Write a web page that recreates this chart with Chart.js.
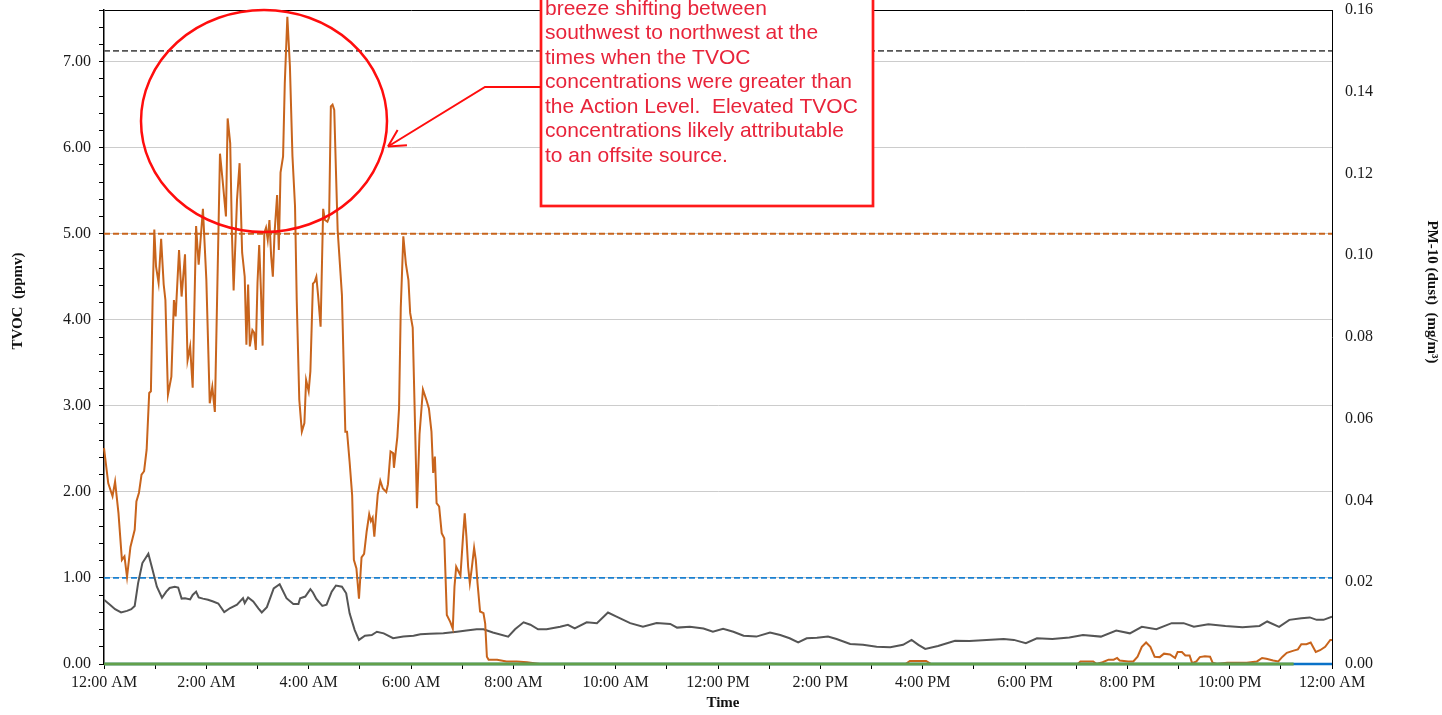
<!DOCTYPE html>
<html>
<head>
<meta charset="utf-8">
<script src="https://cdn.jsdelivr.net/npm/chart.js@4.4.1/dist/chart.umd.min.js"></script>
<style>
  html, body { margin:0; padding:0; background:#fff; }
  #wrap { width:1442px; height:715px; }
</style>
</head>
<body>
<div id="wrap"><canvas id="c" width="1442" height="715"></canvas></div>
<script>
// ---- Data (time in minutes after midnight) ----
const tvocTime = [0,5,10,13,17,21,24,27,31,36,38,41,44,47,50,53,55,57,59,61,64,67,70,72,75,79,82,84,88,91,95,98,101,104,108,111,116,120,124,127,130,133,136,139,143,145,148,150,152,156,159,162,165,167,169,171,174,176,178,180,182,184,186,188,190,192,194,196,198,200,203,205,207,210,212,215,218,221,224,226,229,232,235,237,240,242,245,247,249,251,254,257,259,262,264,266,268,270,272,274,276,279,283,285,288,291,293,296,299,302,305,308,311,313,315,317,321,324,327,331,333,336,339,340,344,346,348,351,354,357,359,362,365,367,370,374,378,381,384,386,388,390,393,396,399,402,406,409,411,413,415,418,421,423,425,427,429,431,434,436,438,441,445,447,449,451,461,472,484,496,511,940,945,950,958,964,970,1142,1145,1160,1164,1171,1178,1184,1188,1191,1201,1207,1212,1217,1222,1227,1232,1238,1243,1250,1256,1259,1264,1268,1273,1276,1281,1285,1291,1297,1300,1305,1317,1340,1352,1358,1363,1371,1377,1382,1387,1395,1400,1404,1410,1415,1421,1426,1432,1438,1440];
const tvocValue = [2.51,2.10,1.95,2.12,1.75,1.21,1.25,1.01,1.36,1.56,1.89,1.99,2.20,2.24,2.49,3.15,3.17,4.23,5.05,4.62,4.43,4.94,4.41,4.23,3.13,3.34,4.23,4.04,4.81,4.27,4.76,3.53,3.69,3.21,5.09,4.64,5.29,4.47,3.03,3.22,2.93,4.43,5.93,5.63,5.20,6.34,6.05,5.01,4.34,5.40,5.82,4.78,4.50,3.71,4.41,3.69,3.88,3.85,3.65,4.43,4.87,4.35,3.70,5.01,5.07,4.93,5.16,4.74,4.50,5.01,5.45,4.81,5.71,5.90,6.75,7.52,6.95,5.90,5.32,4.23,3.07,2.70,2.80,3.30,3.17,3.40,4.42,4.44,4.50,4.29,3.92,5.29,5.16,5.14,5.19,6.48,6.50,6.44,5.73,5.04,4.74,4.29,2.70,2.70,2.35,1.96,1.21,1.11,0.76,1.24,1.28,1.54,1.74,1.66,1.70,1.48,1.97,2.13,2.04,2.00,2.09,2.47,2.45,2.28,2.64,2.97,4.14,4.97,4.65,4.46,4.08,3.91,2.67,1.81,2.67,3.19,3.07,2.97,2.70,2.22,2.41,1.87,1.83,1.52,1.46,0.57,0.49,0.41,0.90,1.13,1.09,1.03,1.48,1.75,1.48,1.13,0.94,1.09,1.35,1.21,0.94,0.61,0.59,0.47,0.085,0.05,0.05,0.03,0.03,0.02,0.0,0.0,0.035,0.035,0.035,0.035,0.0,0.0,0.03,0.03,0.0,0.02,0.05,0.05,0.07,0.04,0.03,0.03,0.085,0.20,0.25,0.20,0.085,0.08,0.12,0.11,0.07,0.14,0.14,0.10,0.10,0.01,0.03,0.08,0.09,0.085,0.015,0.0,0.015,0.015,0.03,0.07,0.06,0.04,0.03,0.085,0.13,0.155,0.17,0.23,0.23,0.25,0.14,0.16,0.20,0.28,0.28];

const pmTime = [0,7,13,20,27,32,36,40,45,52,57,62,68,73,77,83,87,91,95,101,104,108,111,116,122,128,134,141,148,156,163,165,169,175,181,185,191,199,206,214,222,228,230,236,242,245,249,256,261,267,272,279,284,288,294,299,306,314,320,328,339,351,363,371,382,398,414,425,437,445,456,474,482,492,500,509,519,535,544,552,566,578,591,601,617,632,648,664,672,687,703,714,726,738,750,765,781,793,804,814,824,836,849,859,875,890,906,922,937,947,955,963,978,998,1015,1035,1055,1067,1081,1094,1112,1132,1148,1169,1187,1203,1217,1234,1252,1266,1278,1295,1315,1335,1355,1364,1378,1390,1404,1414,1422,1430,1440];
const pmValue = [0.0157,0.0145,0.0134,0.0126,0.0130,0.0134,0.0142,0.0198,0.0247,0.0270,0.0230,0.0189,0.0162,0.0177,0.0186,0.0189,0.0187,0.0160,0.0161,0.0158,0.0169,0.0177,0.0163,0.0160,0.0157,0.0153,0.0148,0.0127,0.0137,0.0145,0.0161,0.0149,0.0163,0.0153,0.0136,0.0126,0.0139,0.0185,0.0195,0.0161,0.0147,0.0147,0.0161,0.0165,0.0183,0.0175,0.0159,0.0142,0.0145,0.0177,0.0192,0.0189,0.0173,0.0124,0.0083,0.0059,0.0069,0.0071,0.0079,0.0075,0.0063,0.0067,0.0069,0.0073,0.0074,0.0075,0.0079,0.0082,0.0085,0.0085,0.0077,0.0067,0.0085,0.0102,0.0096,0.0085,0.0085,0.0091,0.0096,0.0087,0.0102,0.0100,0.0126,0.0116,0.0100,0.0091,0.0100,0.0098,0.0089,0.0091,0.0087,0.0079,0.0086,0.0079,0.0069,0.0067,0.0077,0.0071,0.0063,0.0053,0.0063,0.0064,0.0067,0.0061,0.0049,0.0047,0.0042,0.0041,0.0047,0.0059,0.0047,0.0037,0.0044,0.0057,0.0056,0.0059,0.0061,0.0059,0.0051,0.0063,0.0061,0.0065,0.0071,0.0067,0.0082,0.0075,0.0091,0.0085,0.0100,0.0100,0.0091,0.0097,0.0093,0.0090,0.0093,0.0104,0.0091,0.0108,0.0112,0.0114,0.0108,0.0108,0.0116];

// zero-valued monitoring series (drawn along the baseline)
const greenTime = [0, 1395];
const greenValue = [0, 0];
const blueTime = [0, 1440];
const blueValue = [0, 0];

// reference levels
const tvocActionLevel = 5.0;   // ppmv
const tvocLowerLevel = 1.0;    // ppmv
const pmActionLevel = 0.15;    // mg/m3

const xTickStep = 60;      // minutes
const xLabelStep = 120;    // minutes
const yLeftMax = 7.6, yRightMax = 0.16;

const noteLines = [
  "breeze shifting between",
  "southwest to northwest at the",
  "times when the TVOC",
  "concentrations were greater than",
  "the Action Level.  Elevated TVOC",
  "concentrations likely attributable",
  "to an offsite source."
];

// ---- helpers ----
const pts = (xs, ys) => xs.map((x, i) => ({x, y: ys[i]}));
const span = (v) => [{x: 0, y: v}, {x: 1440, y: v}];
function fmtTime(m) {
  let h = Math.round(m / 60) % 24;
  const ap = h < 12 ? 'AM' : 'PM';
  let hh = h % 12; if (hh === 0) hh = 12;
  return hh + ':00 ' + ap;
}
const isInt = v => Math.abs(v - Math.round(v)) < 1e-6;
const noPad = s => { s.paddingTop = 0; s.paddingBottom = 0; s.paddingLeft = 0; s.paddingRight = 0; };

const SERIF = "'Liberation Serif', 'Times New Roman', serif";
const SANS = "'Liberation Sans', Arial, sans-serif";
Chart.defaults.font.family = SERIF;
Chart.defaults.color = '#1a1a1a';

const overlay = {
  id: 'overlay',
  afterDraw(chart) {
    const c = chart.ctx, a = chart.chartArea;
    c.save();
    // axis titles
    c.fillStyle = '#111';
    c.font = "bold 15px " + SERIF;
    c.textAlign = 'center'; c.textBaseline = 'middle';
    c.save(); c.translate(18, 301); c.rotate(-Math.PI / 2);
    c.fillText('TVOC  (ppmv)', 0, 0); c.restore();
    c.save(); c.translate(1432, 292); c.rotate(Math.PI / 2);
    c.fillText('PM-10 (dust)  (mg/m\u00B3)', 0, 0); c.restore();
    c.fillText('Time', (a.left + a.right) / 2 + 5, 703);

    // ellipse
    c.strokeStyle = '#ff0d0d'; c.lineWidth = 2.5;
    c.beginPath(); c.ellipse(264, 121, 123, 111, 0, 0, Math.PI * 2); c.stroke();

    // note box
    c.fillStyle = '#fff';
    c.fillRect(541, -60, 332, 266);
    c.strokeStyle = '#ff1a1a'; c.lineWidth = 2.7;
    c.strokeRect(541, -60, 332, 266);

    // arrow
    c.strokeStyle = '#ff0d0d'; c.lineWidth = 2;
    const tip = [388, 146.5], bend = [485, 87];
    c.beginPath(); c.moveTo(541, 87); c.lineTo(bend[0], bend[1]); c.lineTo(tip[0], tip[1]); c.stroke();
    const ang = Math.atan2(bend[1] - tip[1], bend[0] - tip[0]);
    c.beginPath();
    for (const s of [-1, 1]) {
      const t = ang + s * 0.49;
      c.moveTo(tip[0], tip[1]);
      c.lineTo(tip[0] + 19 * Math.cos(t), tip[1] + 19 * Math.sin(t));
    }
    c.stroke();

    // note text
    c.fillStyle = '#e8243a';
    c.font = "21px " + SANS;
    c.textAlign = 'left'; c.textBaseline = 'middle';
    noteLines.forEach((t, i) => c.fillText(t, 545, 9 + i * 24.5));
    c.restore();
  }
};

new Chart(document.getElementById('c'), {
  type: 'line',
  data: {
    datasets: [
      { data: pts(greenTime, greenValue), yAxisID: 'y', borderColor: '#62a04a', borderWidth: 3, clip: false },
      { data: pts(blueTime, blueValue), yAxisID: 'y', borderColor: '#0a72c8', borderWidth: 2.5, clip: false },
      { data: pts(tvocTime, tvocValue), yAxisID: 'y', borderColor: '#c8641c', borderWidth: 2, clip: false },
      { data: pts(pmTime, pmValue), yAxisID: 'y2', borderColor: '#555555', borderWidth: 2 },
      { data: span(tvocActionLevel), yAxisID: 'y', borderColor: '#c8641c', borderWidth: 1.8, borderDash: [6, 3] },
      { data: span(tvocLowerLevel), yAxisID: 'y', borderColor: '#1a80d0', borderWidth: 1.8, borderDash: [6, 3] },
      { data: span(pmActionLevel), yAxisID: 'y2', borderColor: '#555555', borderWidth: 1.8, borderDash: [6, 3] }
    ]
  },
  options: {
    responsive: false, animation: false,
    layout: { padding: { top: 10, left: 0, right: 0, bottom: 0 } },
    plugins: { legend: { display: false }, tooltip: { enabled: false } },
    elements: { point: { radius: 0 }, line: { tension: 0, fill: false } },
    scales: {
      x: {
        type: 'linear', min: 0, max: 1440,
        afterFit: s => { s.height = 51; noPad(s); },
        ticks: {
          stepSize: xTickStep, autoSkip: false, maxRotation: 0, padding: 4,
          font: { size: 16, family: SERIF }, color: '#1a1a1a',
          callback: v => (v % xLabelStep === 0 ? fmtTime(v) : '')
        },
        grid: { drawOnChartArea: false, drawTicks: true, tickLength: 5, tickColor: '#000' },
        border: { color: '#000', width: 1 }
      },
      y: {
        position: 'left', min: 0, max: yLeftMax,
        afterFit: s => { s.width = 104; noPad(s); },
        ticks: {
          stepSize: 0.2, autoSkip: false, padding: 8,
          font: { size: 16, family: SERIF }, color: '#1a1a1a',
          callback: v => (isInt(v) ? v.toFixed(2) : '')
        },
        grid: {
          color: ctx => {
            const v = ctx.tick ? ctx.tick.value : null;
            if (v === null) return 'rgba(0,0,0,0)';
            if (Math.abs(v - yLeftMax) < 1e-6) return '#000';
            if (isInt(v) && v > 0) return '#cccccc';
            return 'rgba(0,0,0,0)';
          },
          tickColor: '#000', tickLength: 5, lineWidth: 1
        },
        border: { color: '#000', width: 1.5 }
      },
      y2: {
        position: 'right', min: 0, max: yRightMax,
        afterFit: s => { s.width = 110; noPad(s); },
        ticks: {
          stepSize: 0.02, autoSkip: false, padding: 13,
          font: { size: 16, family: SERIF }, color: '#1a1a1a',
          callback: v => v.toFixed(2)
        },
        grid: { drawOnChartArea: false, drawTicks: false },
        border: { color: '#000', width: 1 }
      }
    }
  },
  plugins: [overlay]
});
</script>
</body>
</html>
